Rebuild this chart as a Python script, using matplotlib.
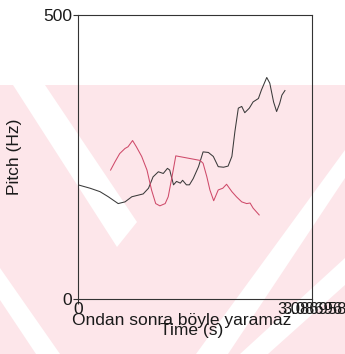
import matplotlib
matplotlib.use('Agg')
import matplotlib.pyplot as plt
from matplotlib.patches import Polygon, Rectangle
from matplotlib import transforms

plt.rcParams['font.family'] = ['Liberation Sans', 'DejaVu Sans']

# pitch tracks (time in s, F0 in Hz)
t_black = [0.00, 0.16, 0.29, 0.40, 0.53, 0.62, 0.71, 0.80, 0.86, 0.93, 0.99, 1.06,
           1.125, 1.18, 1.21, 1.26, 1.30, 1.35, 1.38, 1.43, 1.47, 1.52, 1.59, 1.65,
           1.72, 1.785, 1.85, 1.92, 1.98, 2.03, 2.07, 2.115, 2.16, 2.20, 2.26, 2.31,
           2.38, 2.42, 2.49, 2.53, 2.58, 2.62, 2.66, 2.69, 2.73]
f_black = [201, 195, 189, 180, 168, 171, 180, 183, 185, 195, 215, 224,
           221, 230, 227, 201, 207, 204, 209, 201, 201, 212, 233, 259,
           258, 251, 233, 232, 234, 251, 295, 336, 339, 328, 336, 347,
           353, 368, 390, 380, 347, 330, 344, 359, 367]

t_red = [0.43, 0.49, 0.55, 0.62, 0.66, 0.72, 0.77, 0.84, 0.91, 0.97, 1.025, 1.08,
         1.15, 1.19, 1.24, 1.29, 1.61, 1.65, 1.70, 1.74, 1.79, 1.85, 1.91, 1.96,
         2.03, 2.09, 2.16, 2.225, 2.27, 2.31, 2.39]
f_red = [227, 242, 256, 265, 268, 279, 268, 251, 227, 192, 168, 164,
         168, 180, 215, 252, 244, 239, 215, 192, 173, 192, 195, 202,
         189, 180, 171, 168, 169, 160, 148]

t_end = 3.08696
f_range = (0, 500)
x_labels = ['3.08696', '3.086958']
sentence = 'Ondan sonra böyle yaramaz'

W, H = 345, 354
txt = '#1a1a1a'
fig = plt.figure(figsize=(W / 100, H / 100), dpi=100)

# light pink background mark with white diagonal bands
bg = fig.add_axes([0, 0, 1, 1], zorder=0)
bg.set_xlim(0, W)
bg.set_ylim(H, 0)
bg.axis('off')
pink = '#fde6ea'
bg.add_patch(Rectangle((0, 85), W, H - 85, color=pink, lw=0))
bands = [
    [(13, 85), (45, 85), (137, 222), (117, 247)],
    [(0, 268), (0, 300), (36, 354), (60, 354)],
    [(345, 150), (345, 178), (228, 354), (196, 354)],
    [(345, 258), (345, 285), (268, 354), (240, 354)],
]
for b in bands:
    bg.add_patch(Polygon(b, closed=True, color='white', lw=0))

ax = fig.add_axes([78 / W, 1 - 299 / H, (312 - 78) / W, (299 - 15) / H], zorder=1)
ax.set_facecolor('none')
ax.plot(t_black, f_black, color='#3a3a3a', lw=0.75)
ax.plot(t_red, f_red, color='#cf4a6a', lw=0.75)
ax.set_xlim(0, t_end)
ax.set_ylim(*f_range)

for s in ax.spines.values():
    s.set_color('#333333')
    s.set_linewidth(0.8)

ax.set_yticks(list(f_range))
ax.set_yticklabels([str(v) for v in f_range], fontsize=12.5, color=txt)
ax.tick_params(axis='y', direction='out', length=3.6, width=0.8, pad=0.5, color='#333333')
ax.set_xticks([0, t_end])
ax.set_xticklabels([])
ax.tick_params(axis='x', direction='out', length=3.6, width=0.8, color='#333333')

# x tick labels (two end labels overprinted at the right)
tr = transforms.blended_transform_factory(ax.transData, fig.transFigure)
ax.text(0, 1 - 310 / H, '0', transform=tr, ha='center', va='center',
        fontsize=12.5, color=txt)
for lab in x_labels:
    ax.text(t_end, 1 - 310 / H, lab, transform=tr, ha='center', va='center',
            fontsize=12, color=txt)

fig.text(72 / W, 1 - 320 / H, sentence, ha='left', va='center',
         fontsize=12.5, color=txt)
fig.text(192 / W, 1 - 331 / H, 'Time (s)', ha='center', va='center',
         fontsize=12.5, color=txt)
fig.text(15 / W, 1 - 157 / H, 'Pitch (Hz)', ha='center', va='center',
         rotation=90, fontsize=12.5, color=txt)

fig.savefig('out.png', dpi=100)
